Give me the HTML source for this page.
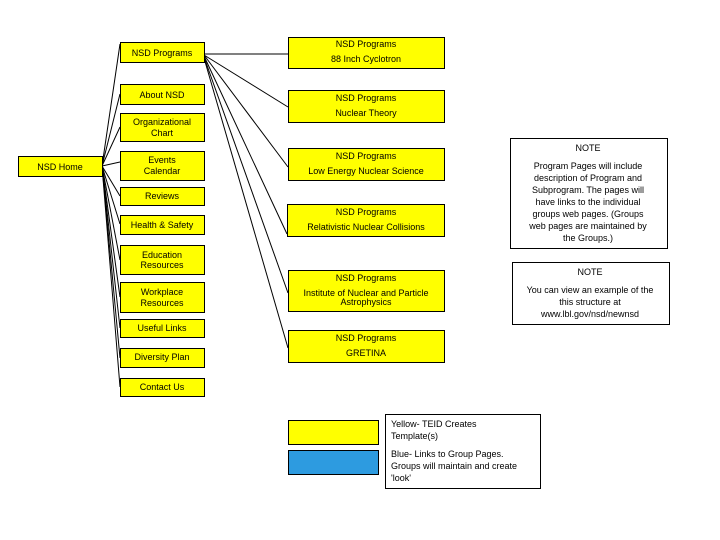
<!DOCTYPE html>
<html><head><meta charset="utf-8"><style>
html,body{margin:0;padding:0;background:#fff;}
svg{display:block;}
text{font-family:"Liberation Sans",sans-serif;font-size:9px;fill:#000;}
</style></head><body>
<svg width="720" height="540" viewBox="0 0 720 540" xmlns="http://www.w3.org/2000/svg">
<g stroke="#000" stroke-width="1" fill="none">
<line x1="102" y1="166" x2="120" y2="44"/>
<line x1="102" y1="166" x2="120" y2="94"/>
<line x1="102" y1="166" x2="120" y2="127"/>
<line x1="102" y1="166" x2="120" y2="162"/>
<line x1="102" y1="166" x2="120" y2="196"/>
<line x1="102" y1="166" x2="120" y2="224"/>
<line x1="102" y1="166" x2="120" y2="260"/>
<line x1="102" y1="166" x2="120" y2="297"/>
<line x1="102" y1="166" x2="120" y2="328"/>
<line x1="102" y1="166" x2="120" y2="358"/>
<line x1="102" y1="166" x2="120" y2="387"/>
<line x1="204" y1="54" x2="288" y2="54"/>
<line x1="204" y1="55" x2="288" y2="107"/>
<line x1="204" y1="55" x2="288" y2="167"/>
<line x1="204" y1="56" x2="287" y2="234"/>
<line x1="204" y1="57" x2="288" y2="293"/>
<line x1="204" y1="58" x2="288" y2="348"/>
</g>
<g stroke="#000" stroke-width="1" fill="#ffff00">
<rect x="18.5" y="156.5" width="84" height="20"/>
<rect x="120.5" y="42.5" width="84" height="20"/>
<rect x="120.5" y="84.5" width="84" height="20"/>
<rect x="120.5" y="113.5" width="84" height="28"/>
<rect x="120.5" y="151.5" width="84" height="29"/>
<rect x="120.5" y="187.5" width="84" height="18"/>
<rect x="120.5" y="215.5" width="84" height="19"/>
<rect x="120.5" y="245.5" width="84" height="29"/>
<rect x="120.5" y="282.5" width="84" height="30"/>
<rect x="120.5" y="319.5" width="84" height="18"/>
<rect x="120.5" y="348.5" width="84" height="19"/>
<rect x="120.5" y="378.5" width="84" height="18"/>
<rect x="288.5" y="37.5" width="156" height="31"/>
<rect x="288.5" y="90.5" width="156" height="32"/>
<rect x="288.5" y="148.5" width="156" height="32"/>
<rect x="287.5" y="204.5" width="157" height="32"/>
<rect x="288.5" y="270.5" width="156" height="41"/>
<rect x="288.5" y="330.5" width="156" height="32"/>
<rect x="288.5" y="420.5" width="90" height="24"/>
<rect x="288.5" y="450.5" width="90" height="24" fill="#2d9be0"/>
</g>
<g stroke="#000" stroke-width="1" fill="#fff">
<rect x="510.5" y="138.5" width="157" height="110"/>
<rect x="512.5" y="262.5" width="157" height="62"/>
<rect x="385.5" y="414.5" width="155" height="74"/>
</g>
<g text-anchor="middle">
<text x="60" y="170" font-size="10">NSD Home</text>
<text x="162" y="56" font-size="10">NSD Programs</text>
<text x="162" y="98" font-size="10">About NSD</text>
<text x="162" y="125">Organizational</text>
<text x="162" y="136">Chart</text>
<text x="162" y="163">Events</text>
<text x="162" y="174">Calendar</text>
<text x="162" y="199">Reviews</text>
<text x="162" y="228">Health &amp; Safety</text>
<text x="162" y="258">Education</text>
<text x="162" y="268">Resources</text>
<text x="162" y="295">Workplace</text>
<text x="162" y="306">Resources</text>
<text x="162" y="331">Useful Links</text>
<text x="162" y="360">Diversity Plan</text>
<text x="162" y="390">Contact Us</text>
<text x="366" y="47" font-size="8">NSD Programs</text>
<text x="366" y="62" font-size="8">88 Inch Cyclotron</text>
<text x="366" y="101" font-size="8">NSD Programs</text>
<text x="366" y="116" font-size="8">Nuclear Theory</text>
<text x="366" y="159" font-size="8">NSD Programs</text>
<text x="366" y="174" font-size="8">Low Energy Nuclear Science</text>
<text x="366" y="215" font-size="8">NSD Programs</text>
<text x="366" y="230" font-size="8">Relativistic Nuclear Collisions</text>
<text x="366" y="281" font-size="8">NSD Programs</text>
<text x="366" y="296" font-size="8">Institute of Nuclear and Particle</text>
<text x="366" y="305" font-size="8">Astrophysics</text>
<text x="366" y="341" font-size="8">NSD Programs</text>
<text x="366" y="356" font-size="8">GRETINA</text>
<text x="588" y="151">NOTE</text>
<text x="588" y="169">Program Pages will include</text>
<text x="588" y="181">description of Program and</text>
<text x="588" y="193">Subprogram.  The pages will</text>
<text x="588" y="205">have links to the individual</text>
<text x="588" y="217">groups web pages. (Groups</text>
<text x="588" y="229">web pages are maintained by</text>
<text x="588" y="241">the Groups.)</text>
<text x="590" y="275">NOTE</text>
<text x="590" y="293">You can view an example of the</text>
<text x="590" y="305">this structure at</text>
<text x="590" y="317">www.lbl.gov/nsd/newnsd</text>
</g>
<text x="391" y="427">Yellow- TEID Creates</text>
<text x="391" y="439">Template(s)</text>
<text x="391" y="457">Blue- Links to Group Pages.</text>
<text x="391" y="469">Groups will maintain and create</text>
<text x="391" y="481">'look'</text>
</svg>
</body></html>
